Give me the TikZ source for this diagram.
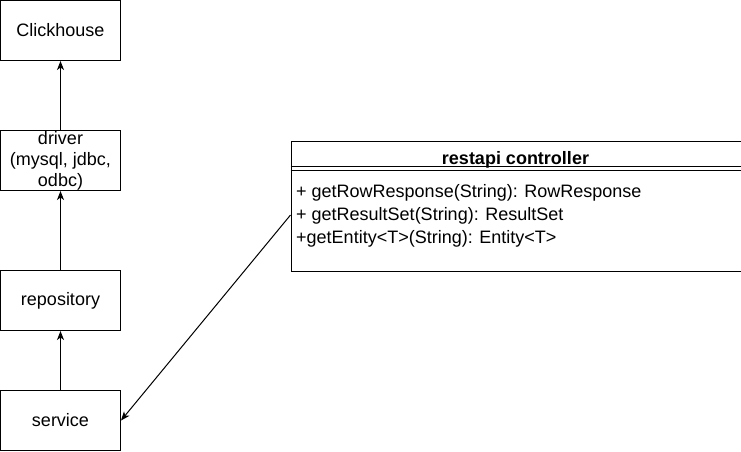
\documentclass[tikz,border=0pt]{standalone}
\usepackage{fontspec}
\setmainfont{Liberation Sans}
\usetikzlibrary{arrows.meta}
\begin{document}
\begin{tikzpicture}[x=1pt,y=-1pt,
  every node/.style={font=\fontsize{18}{21}\selectfont},
  box/.style={draw,line width=1pt,minimum width=120pt,minimum height=60pt,inner sep=0pt,align=center},
  conn/.style={line width=1pt,-{Stealth[length=9pt,width=7pt,inset=2.5pt]}},
  member/.style={anchor=base west,inner sep=0pt}]
\useasboundingbox (0,0) rectangle (741,451);
\node[box] (ch) at (60.5,30.5) {Clickhouse};
\node[box] (drv) at (60.5,160.5) {driver\\(mysql, jdbc,\\odbc)};
\node[box] (repo) at (60.5,300.5) {repository};
\node[box] (svc) at (60.5,420.5) {service};
\node[draw,line width=1pt,minimum width=450pt,minimum height=130pt,inner sep=0pt,anchor=north west] (ctl) at (290.5,140.5) {};
\draw[line width=1pt] ([yshift=-26pt]ctl.north west) -- ([yshift=-26pt]ctl.north east);
\draw[line width=1pt] ([yshift=-29.5pt]ctl.north west) -- ([yshift=-29.5pt]ctl.north east);
\node[anchor=base,inner sep=0pt,font=\fontsize{18}{21}\selectfont\bfseries] (hdr) at (515.5,164.5) {restapi controller};
\node[member] (m1) at (296,197.5) {+ getRowResponse(String): RowResponse};
\node[member] (m2) at (296,220.5) {+ getResultSet(String): ResultSet};
\node[member] (m3) at (296,243.5) {+getEntity<T>(String): Entity<T>};
\coordinate (src) at (290.5,215);
\draw[conn] (drv.north) -- (ch.south);
\draw[conn] (repo.north) -- (drv.south);
\draw[conn] (svc.north) -- (repo.south);
\draw[conn] (src) -- (svc.east);
\end{tikzpicture}
\end{document}
